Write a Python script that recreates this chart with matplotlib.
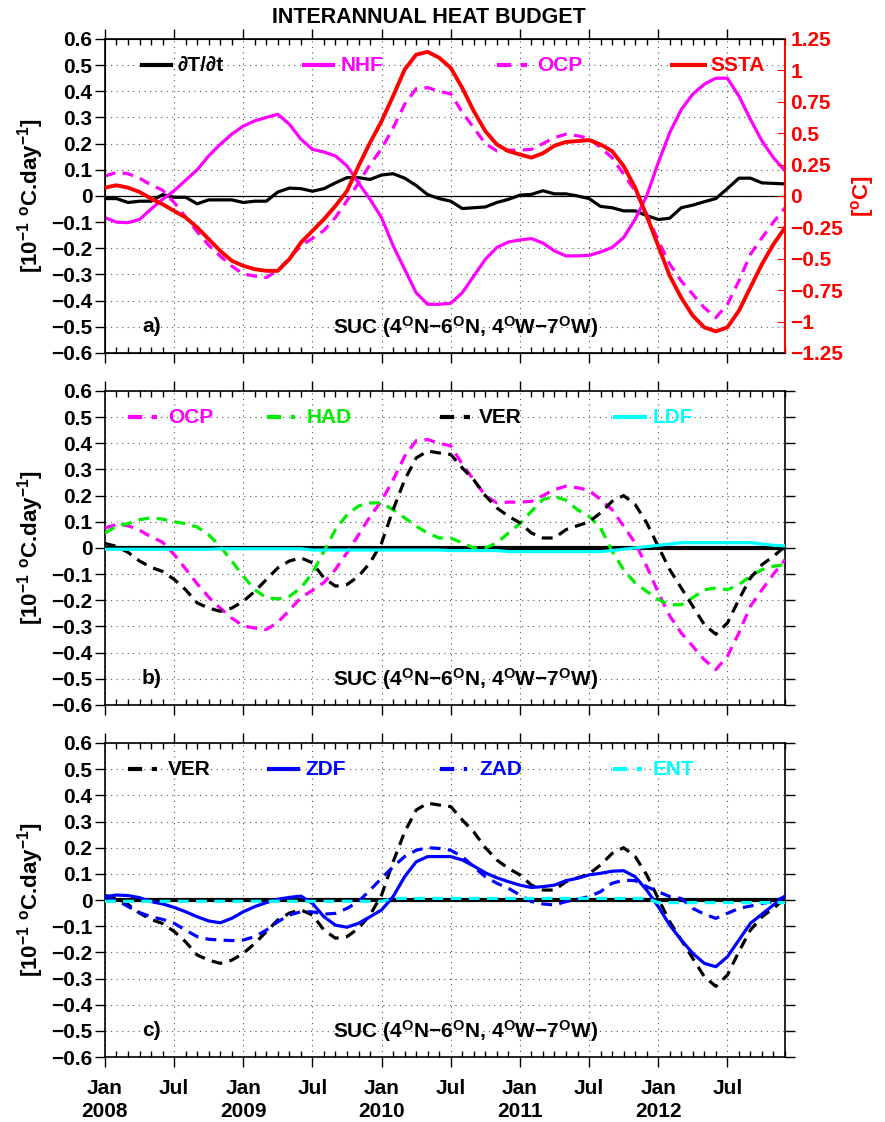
import matplotlib
matplotlib.use("Agg")
import matplotlib.pyplot as plt
from matplotlib.ticker import MultipleLocator, FixedLocator, FuncFormatter

plt.rcParams["font.family"] = ["Liberation Sans", "DejaVu Sans"]
plt.rcParams["font.weight"] = "bold"
plt.rcParams["mathtext.fontset"] = "custom"
plt.rcParams["mathtext.rm"] = "Liberation Sans:bold"
plt.rcParams["mathtext.it"] = "Liberation Sans:bold"
plt.rcParams["mathtext.bf"] = "Liberation Sans:bold"
plt.rcParams["mathtext.default"] = "rm"

# monthly values, Jan 2008 .. Dec 2012 (month index 0..59)
months = list(range(60))
tick_months = [0, 6, 12, 18, 24, 30, 36, 42, 48, 54]
tick_labels = ["Jan\n2008", "Jul", "Jan\n2009", "Jul", "Jan\n2010", "Jul",
               "Jan\n2011", "Jul", "Jan\n2012", "Jul"]

dtdt = [-0.01, -0.01, -0.025, -0.02, -0.02, 0.005, -0.005, -0.005, -0.03, -0.015,
        -0.015, -0.015, -0.025, -0.02, -0.02, 0.015, 0.03, 0.028, 0.018, 0.028,
        0.05, 0.07, 0.07, 0.063, 0.08, 0.085, 0.068, 0.04, 0.005, -0.01,
        -0.02, -0.048, -0.045, -0.042, -0.025, -0.013, 0.003, 0.006, 0.02, 0.008,
        0.008, 0.0, -0.01, -0.04, -0.045, -0.057, -0.057, -0.075, -0.09, -0.085,
        -0.045, -0.035, -0.022, -0.01, 0.028, 0.068, 0.068, 0.05, 0.048, 0.046]
nhf = [-0.083, -0.10, -0.102, -0.09, -0.05, -0.013, 0.02, 0.06, 0.10, 0.153,
       0.197, 0.236, 0.267, 0.287, 0.30, 0.312, 0.274, 0.217, 0.178, 0.168,
       0.153, 0.115, 0.05, -0.013, -0.083, -0.19, -0.28, -0.37, -0.414, -0.414,
       -0.41, -0.37, -0.306, -0.242, -0.197, -0.176, -0.168, -0.163, -0.18, -0.21,
       -0.229, -0.229, -0.227, -0.214, -0.197, -0.159, -0.089, 0.0, 0.127, 0.242,
       0.33, 0.389, 0.427, 0.45, 0.45, 0.382, 0.293, 0.21, 0.146, 0.096]
ocp = [0.076, 0.09, 0.085, 0.068, 0.042, 0.022, -0.025, -0.08, -0.137, -0.188,
       -0.23, -0.268, -0.298, -0.306, -0.312, -0.284, -0.238, -0.19, -0.162, -0.132,
       -0.082, -0.018, 0.05, 0.12, 0.18, 0.26, 0.35, 0.41, 0.414, 0.4,
       0.39, 0.32, 0.26, 0.2, 0.172, 0.175, 0.175, 0.178, 0.2, 0.223,
       0.236, 0.23, 0.22, 0.185, 0.146, 0.083, 0.019, -0.07, -0.17, -0.26,
       -0.325, -0.376, -0.427, -0.465, -0.414, -0.325, -0.223, -0.16, -0.1, -0.045]
ssta = [0.066, 0.085, 0.066, 0.032, -0.021, -0.066, -0.119, -0.172, -0.25, -0.344,
        -0.437, -0.516, -0.556, -0.583, -0.596, -0.596, -0.503, -0.371, -0.278, -0.185,
        -0.079, 0.04, 0.238, 0.424, 0.596, 0.795, 1.006, 1.125, 1.147, 1.10,
        1.02, 0.86, 0.675, 0.516, 0.41, 0.357, 0.33, 0.305, 0.34, 0.40,
        0.43, 0.437, 0.445, 0.41, 0.357, 0.238, 0.066, -0.159, -0.397, -0.636,
        -0.81, -0.953, -1.046, -1.078, -1.046, -0.914, -0.728, -0.543, -0.384, -0.252]
had = [0.057, 0.083, 0.093, 0.108, 0.115, 0.11, 0.1, 0.093, 0.08, 0.05,
       0.006, -0.05, -0.108, -0.16, -0.19, -0.195, -0.185, -0.153, -0.096, -0.013,
       0.07, 0.127, 0.16, 0.172, 0.172, 0.146, 0.115, 0.083, 0.057, 0.038,
       0.038, 0.019, 0.0, 0.0, 0.019, 0.057, 0.093, 0.14, 0.185, 0.197,
       0.182, 0.146, 0.121, 0.076, -0.013, -0.083, -0.134, -0.166, -0.197, -0.217,
       -0.217, -0.19, -0.16, -0.153, -0.16, -0.14, -0.108, -0.083, -0.07, -0.064]
ver = [0.017, 0.006, -0.017, -0.05, -0.074, -0.09, -0.12, -0.16, -0.21, -0.23,
       -0.242, -0.23, -0.204, -0.166, -0.121, -0.076, -0.05, -0.038, -0.057, -0.115,
       -0.146, -0.14, -0.108, -0.057, 0.019, 0.146, 0.26, 0.344, 0.37, 0.363,
       0.357, 0.306, 0.26, 0.2, 0.153, 0.121, 0.096, 0.057, 0.038, 0.038,
       0.07, 0.085, 0.1, 0.134, 0.178, 0.2, 0.166, 0.096, 0.006, -0.083,
       -0.153, -0.223, -0.293, -0.33, -0.287, -0.197, -0.115, -0.064, -0.032, 0.006]
ldf = [-0.005, -0.005, -0.005, -0.005, -0.005, -0.005, -0.005, -0.005, -0.005, -0.005,
       -0.003, -0.003, -0.003, -0.003, -0.003, -0.003, -0.003, -0.003, -0.008, -0.008,
       -0.008, -0.008, -0.008, -0.008, -0.008, -0.008, -0.008, -0.008, -0.008, -0.008,
       -0.01, -0.01, -0.01, -0.01, -0.01, -0.014, -0.014, -0.014, -0.014, -0.014,
       -0.014, -0.014, -0.014, -0.014, -0.01, -0.005, 0.0, 0.005, 0.01, 0.015,
       0.02, 0.02, 0.02, 0.02, 0.02, 0.02, 0.02, 0.015, 0.01, 0.008]
zdf = [0.013, 0.019, 0.017, 0.009, -0.006, -0.015, -0.028, -0.045, -0.064, -0.08,
       -0.087, -0.07, -0.045, -0.025, -0.01, 0.003, 0.01, 0.015, -0.013, -0.064,
       -0.096, -0.104, -0.089, -0.064, -0.038, 0.013, 0.089, 0.146, 0.166, 0.166,
       0.166, 0.153, 0.13, 0.104, 0.085, 0.07, 0.057, 0.048, 0.051, 0.057,
       0.074, 0.083, 0.096, 0.102, 0.11, 0.112, 0.089, 0.038, -0.025, -0.096,
       -0.153, -0.204, -0.242, -0.255, -0.217, -0.153, -0.089, -0.054, -0.019, 0.015]
zad = [0.0, 0.0, -0.025, -0.048, -0.064, -0.074, -0.089, -0.115, -0.14, -0.15,
       -0.153, -0.155, -0.153, -0.14, -0.115, -0.083, -0.057, -0.045, -0.045, -0.054,
       -0.051, -0.032, -0.006, 0.038, 0.083, 0.127, 0.166, 0.19, 0.2, 0.197,
       0.19, 0.166, 0.127, 0.089, 0.064, 0.045, 0.019, -0.006, -0.015, -0.019,
       -0.006, 0.003, 0.013, 0.032, 0.064, 0.076, 0.074, 0.051, 0.032, 0.013,
       0.006, -0.032, -0.054, -0.07, -0.051, -0.032, -0.023, -0.013, -0.006, 0.013]
ent = [-0.005, -0.005, -0.005, -0.005, -0.005, -0.005, -0.005, -0.005, -0.005, -0.005,
       -0.005, -0.005, -0.005, -0.005, -0.005, -0.005, -0.005, -0.005, -0.005, -0.005,
       -0.005, -0.005, -0.005, -0.005, -0.005, 0.006, 0.006, 0.006, 0.006, 0.006,
       0.006, 0.006, 0.006, 0.006, 0.006, 0.006, 0.006, 0.006, 0.006, 0.006,
       0.006, 0.006, 0.006, 0.006, 0.006, 0.006, 0.006, 0.006, -0.01, -0.01,
       -0.01, -0.01, -0.01, -0.01, -0.01, -0.01, -0.01, -0.01, -0.01, -0.01]

MAGENTA = "#ff00ff"
GREEN = "#00ee00"
CYAN = "#00ffff"
BLUE = "#0000ff"
RED = "#ff0000"
DASH = (0, (3.4, 2.3))
LW = 2.3
TICK_FS = 15
region = "SUC (4$^{\\rm O}$N\u22126$^{\\rm O}$N, 4$^{\\rm O}$W\u22127$^{\\rm O}$W)"
ylab = "[10$^{-1}$ $^{\\rm o}$C.day$^{-1}$]"


def fmt(v, pos):
    return "{:g}".format(round(v, 3)).replace("-", "\u2212")


def setup_axes(ax, show_xlabels):
    ax.set_xlim(0, 59)
    ax.set_ylim(-0.6, 0.6)
    ax.xaxis.set_major_locator(FixedLocator(tick_months))
    ax.xaxis.set_minor_locator(MultipleLocator(1))
    if show_xlabels:
        ax.set_xticklabels(tick_labels, linespacing=1.25)
    else:
        ax.set_xticklabels([])
    ax.yaxis.set_major_locator(MultipleLocator(0.1))
    ax.yaxis.set_major_formatter(FuncFormatter(fmt))
    ax.tick_params(which="major", direction="out", length=7, width=1,
                   top=True, right=True, labelsize=TICK_FS, pad=2)
    ax.tick_params(which="major", axis="x", pad=9)
    ax.tick_params(which="minor", axis="x", direction="in", length=4, width=1,
                   top=True, bottom=True)
    ax.grid(True, which="major", linestyle=(0, (1, 4)), color="#555555", lw=0.8)
    for s in ax.spines.values():
        s.set_linewidth(1.2)
    ax.set_ylabel(ylab, fontsize=16, fontweight="bold", labelpad=4)
    for lab in ax.get_xticklabels() + ax.get_yticklabels():
        lab.set_fontweight("bold")


def key(ax, x0, x1, xt, label, color, ls):
    ax.plot([x0, x1], [0.9167, 0.9167], transform=ax.transAxes, color=color,
            ls=ls, lw=3, solid_capstyle="butt", dash_capstyle="butt")
    ax.text(xt, 0.9167, label, transform=ax.transAxes, color=color,
            fontsize=15, fontweight="bold", va="center", ha="left")


def tags(ax, letter):
    ax.text(0.069, 0.083, letter, transform=ax.transAxes, fontsize=15,
            fontweight="bold", ha="center", va="center")
    ax.text(0.335, 0.083, region, transform=ax.transAxes, fontsize=15,
            fontweight="bold", ha="left", va="center")


fig = plt.figure(figsize=(8.85, 11.22), dpi=100)
L, W, H = 0.1186, 0.7684, 0.2799
ax1 = fig.add_axes([L, 0.6854, W, H])
ax2 = fig.add_axes([L, 0.3717, W, H])
ax3 = fig.add_axes([L, 0.0579, W, H])

# (a) tendency, surface forcing and SST anomaly
setup_axes(ax1, False)
ax1.axhline(0, color="black", lw=0.9, zorder=2)
ax1.plot(months, dtdt, color="black", lw=LW, zorder=4)
ax1.plot(months, nhf, color=MAGENTA, lw=LW, zorder=4)
ax1.plot(months, ocp, color=MAGENTA, lw=LW, ls=DASH, zorder=4)
ax1.spines["right"].set_color(RED)
tw = ax1.twinx()
tw.set_ylim(-1.25, 1.25)
tw.yaxis.set_major_locator(MultipleLocator(0.25))
tw.yaxis.set_major_formatter(FuncFormatter(fmt))
tw.tick_params(axis="y", direction="in", length=6, colors=RED,
               labelsize=TICK_FS, pad=4)
for lab in tw.get_yticklabels():
    lab.set_fontweight("bold")
tw.spines["right"].set_color(RED)
tw.spines["right"].set_linewidth(1.2)
tw.set_ylabel("[$^{\\rm o}$C]", color=RED, fontsize=16, fontweight="bold",
              labelpad=4)
tw.plot(months, ssta, color=RED, lw=2.8, zorder=5)
key(ax1, 0.051, 0.100, 0.107, "\u2202T/\u2202t", "black", "-")
key(ax1, 0.290, 0.338, 0.346, "NHF", MAGENTA, "-")
key(ax1, 0.576, 0.621, 0.635, "OCP", MAGENTA, DASH)
key(ax1, 0.831, 0.885, 0.890, "SSTA", RED, "-")
tags(ax1, "a)")
fig.text(0.485, 0.984, "INTERANNUAL HEAT BUDGET", fontsize=15.5,
         fontweight="bold", ha="center", va="center")

# (b) oceanic processes split into horizontal, vertical and lateral terms
setup_axes(ax2, False)
ax2.axhline(0, color="black", lw=3, zorder=3)
ax2.plot(months, ocp, color=MAGENTA, lw=LW, ls=DASH, zorder=4)
ax2.plot(months, had, color=GREEN, lw=LW, ls=DASH, zorder=4)
ax2.plot(months, ver, color="black", lw=LW, ls=DASH, zorder=4)
ax2.plot(months, ldf, color=CYAN, lw=LW, zorder=4)
key(ax2, 0.034, 0.076, 0.093, "OCP", MAGENTA, DASH)
key(ax2, 0.238, 0.279, 0.296, "HAD", GREEN, DASH)
key(ax2, 0.493, 0.537, 0.550, "VER", "black", DASH)
key(ax2, 0.747, 0.797, 0.806, "LDF", CYAN, "-")
tags(ax2, "b)")

# (c) vertical terms
setup_axes(ax3, True)
ax3.axhline(0, color="black", lw=3, zorder=3)
ax3.plot(months, ver, color="black", lw=LW, ls=DASH, zorder=4)
ax3.plot(months, zdf, color=BLUE, lw=LW, zorder=4)
ax3.plot(months, zad, color=BLUE, lw=LW, ls=DASH, zorder=4)
ax3.plot(months, ent, color=CYAN, lw=LW, ls=DASH, zorder=4)
key(ax3, 0.034, 0.076, 0.093, "VER", "black", DASH)
key(ax3, 0.238, 0.287, 0.294, "ZDF", BLUE, "-")
key(ax3, 0.493, 0.532, 0.550, "ZAD", BLUE, DASH)
key(ax3, 0.747, 0.790, 0.806, "ENT", CYAN, DASH)
tags(ax3, "c)")

fig.savefig("out.png", dpi=100)
